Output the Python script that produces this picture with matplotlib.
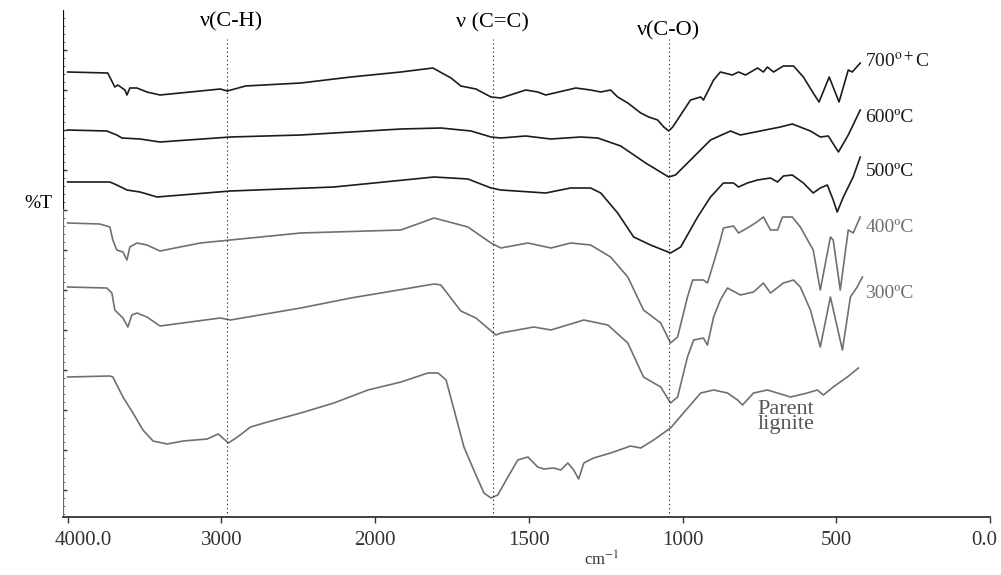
import numpy as np
import matplotlib
matplotlib.use("Agg")
import matplotlib.pyplot as plt
import matplotlib.transforms as mtransforms

plt.rcParams["mathtext.fontset"] = "stix"

# ---------------- data (wavenumber cm-1, %T arbitrary offset units) ----------------
w700 = [4000, 3739, 3706, 3693, 3673, 3627, 3614, 3595, 3549, 3484, 3399, 3137, 3007, 2961, 2843, 2484,
        2157, 1916, 1812, 1753, 1721, 1672, 1623, 1591, 1510, 1471, 1445, 1347, 1299, 1266, 1234, 1211,
        1178, 1136, 1110, 1081, 1061, 1045, 1032, 974, 941, 932, 899, 877, 838, 818, 795, 756, 737, 724,
        704, 672, 639, 607, 575, 556, 523, 491, 461, 448, 422]
t700 = [445, 444, 434, 430, 432, 427, 422, 429, 429, 425, 422, 426, 428, 426, 431, 434,
        440, 445, 449, 439, 431, 428, 420, 419, 427, 425, 422, 429, 427, 425, 427, 420,
        414, 404, 400, 397, 390, 386, 390, 417, 420, 417, 437, 445, 442, 445, 442, 449, 445, 450,
        445, 451, 451, 440, 424, 415, 440, 415, 447, 445, 454]

w600 = [4000, 3745, 3680, 3647, 3529, 3399, 2941, 2484, 1916, 1786, 1688, 1623, 1591, 1510, 1428,
        1331, 1276, 1201, 1120, 1045, 1023, 974, 909, 844, 812, 747, 682, 643, 584, 552, 526, 493,
        461, 422]
t600 = [387, 386, 382, 379, 378, 375, 380, 382, 388, 389, 386, 380, 379, 381, 378,
        380, 379, 371, 354, 340, 342, 357, 377, 386, 382, 386, 390, 393, 386, 380, 381, 365,
        382, 407]

w500 = [4000, 3725, 3680, 3614, 3529, 3418, 2941, 2268, 1808, 1698, 1623, 1591, 1445, 1364, 1299,
        1266, 1211, 1159, 1104, 1039, 1006, 951, 909, 867, 834, 818, 789, 756, 714, 691, 672, 643,
        607, 575, 552, 529, 510, 497, 477, 445, 422]
t500 = [335, 335, 332, 327, 325, 320, 326, 330, 340, 338, 329, 327, 324, 329, 329,
        324, 304, 280, 272, 264, 270, 300, 320, 334, 334, 330, 334, 337, 339, 335, 341, 342,
        334, 324, 329, 332, 317, 305, 320, 340, 360]

w400 = [4000, 3791, 3725, 3706, 3680, 3640, 3614, 3595, 3549, 3484, 3399, 3137, 2941, 2484, 1916,
        1808, 1698, 1623, 1591, 1503, 1428, 1364, 1299, 1234, 1178, 1127, 1071, 1039, 1016, 984,
        967, 932, 919, 899, 877, 867, 834, 818, 789, 763, 737, 714, 691, 675, 643, 617, 575, 552,
        519, 510, 487, 461, 445, 422]
t400 = [294, 293, 290, 277, 267, 265, 257, 270, 274, 272, 266, 274, 277, 284, 287,
        299, 290, 274, 269, 274, 269, 274, 272, 260, 240, 207, 194, 174, 180, 220,
        237, 237, 234, 254, 277, 289, 291, 284, 289, 294, 300, 287, 287, 300, 300, 290, 267, 227,
        280, 277, 227, 287, 284, 300]

w300 = [4000, 3745, 3712, 3693, 3680, 3640, 3608, 3582, 3549, 3484, 3399, 3007, 2941, 2484, 2157,
        1808, 1786, 1721, 1672, 1607, 1591, 1484, 1428, 1321, 1243, 1178, 1127, 1071, 1039, 1016,
        984, 964, 932, 919, 899, 877, 854, 812, 769, 737, 714, 672, 639, 617, 584, 552, 519, 480,
        454, 432, 415]
t300 = [230, 229, 224, 207, 205, 199, 190, 202, 204, 200, 191, 199, 197, 209, 219,
        233, 232, 206, 199, 182, 184, 190, 187, 197, 192, 174, 140, 130, 114, 120,
        160, 177, 179, 172, 200, 217, 229, 222, 225, 234, 224, 234, 237, 230, 207, 170, 220, 167,
        220, 230, 240]

wpar = [4000, 3725, 3706, 3640, 3575, 3510, 3444, 3353, 3248, 3092, 3020, 2954, 2895, 2810, 2699,
        2484, 2268, 2046, 1916, 1828, 1795, 1769, 1743, 1711, 1679, 1646, 1623, 1601, 1568, 1536,
        1503, 1471, 1451, 1419, 1396, 1373, 1354, 1338, 1321, 1289, 1234, 1169, 1136, 1094, 1039,
        997, 941, 899, 854, 821, 805, 769, 724, 649, 594, 562, 542, 510, 464, 428]
tpar = [140, 141, 140, 120, 104, 87, 76, 73, 76, 78, 83, 74, 80, 90, 95,
        104, 114, 127, 135, 144, 144, 137, 107, 70, 47, 24, 19, 22, 40, 57,
        60, 50, 48, 49, 47, 54, 47, 38, 54, 59, 64, 71, 69, 77, 89,
        104, 124, 127, 124, 117, 112, 124, 127, 120, 124, 127, 122, 130, 140, 149]

series_labels = [r"700$^{\mathrm{o+}}$C", "600ºC", "500ºC", "400ºC", "300ºC", "Parent\nlignite"]
band_names = ["ν(C-H)", "ν (C=C)", "ν(C-O)"]
band_pos = [2961, 1617, 1045]
xtick_vals = [4000, 3000, 2000, 1500, 1000, 500, 0]
xtick_labels = ["4000.0", "3000", "2000", "1500", "1000", "500", "0.0"]

# ---------------- figure ----------------
W, H = 1001, 575
fig = plt.figure(figsize=(W / 100, H / 100), dpi=100)
ax = fig.add_axes([63 / W, 58 / H, 927 / W, 507 / H])
serif = "Liberation Serif"


def fwd(w):
    w = np.asarray(w, dtype=float)
    return np.where(w > 2000, 2000 + (w - 2000) / 2.0, w)


def inv(f):
    f = np.asarray(f, dtype=float)
    return np.where(f > 2000, 2000 + 2.0 * (f - 2000), f)


ax.set_xscale("function", functions=(fwd, inv))
ax.set_xlim(4030, 0)
ax.set_ylim(0, 507)

dark = "#1c1c1c"
grey = "#707070"
curves = [(w700, t700, dark), (w600, t600, dark), (w500, t500, dark),
          (w400, t400, grey), (w300, t300, grey), (wpar, tpar, grey)]
for wx, ty, c in curves:
    ax.plot(wx, ty, color=c, lw=1.2, solid_joinstyle="round")

# band marker lines
for bp in band_pos:
    ax.plot([bp, bp], [0, 478], ls=(0, (1.2, 2.5)), color="#333333", lw=0.8)

# band labels
ax.text(2935, 495, band_names[0], ha="center", va="center", fontsize=16, family=serif)
ax.text(1617, 494, band_names[1], ha="center", va="center", fontsize=16, family=serif)
ax.text(1045, 486, band_names[2], ha="center", va="center", fontsize=16, family=serif)

# series labels
lab_pos = [(405, 456, dark), (405, 400, dark), (405, 345, dark), (405, 289, grey), (405, 224, grey)]
for (x, y, c), s in zip(lab_pos, series_labels[:5]):
    ax.text(x, y, s, ha="left", va="center", fontsize=14, family=serif, color=c)
ax.text(664, 100, series_labels[5], ha="center", va="center", fontsize=16, family=serif,
        color="#555555", linespacing=0.68)

# spines
for s in ["top", "right"]:
    ax.spines[s].set_visible(False)
ax.spines["left"].set_visible(False)
ax.axvline(4030, ymin=0.0, ymax=0.61, color="#6a6a6a", lw=1.6)
ax.axvline(4030, ymin=0.61, ymax=1.0, color="#111111", lw=1.6)
ax.spines["bottom"].set_color("#333333")
ax.spines["bottom"].set_linewidth(1.3)

ax.set_xticks(xtick_vals)
ax.set_xticklabels(xtick_labels, fontsize=15, family=serif, color="#333333")
ax.tick_params(axis="x", direction="out", length=4, width=1, pad=6, colors="#333333")
lbls = ax.get_xticklabels()
lbls[0].set_transform(lbls[0].get_transform() + mtransforms.ScaledTranslation(16 / 100, 0, fig.dpi_scale_trans))
lbls[-1].set_transform(lbls[-1].get_transform() + mtransforms.ScaledTranslation(-6 / 100, 0, fig.dpi_scale_trans))
ax.xaxis.set_minor_locator(matplotlib.ticker.NullLocator())

ax.set_yticks(np.arange(27, 500, 40))
ax.set_yticks(np.arange(3, 507, 8), minor=True)
ax.set_yticklabels([])
ax.tick_params(axis="y", which="major", direction="in", length=3, width=1, colors="#333333")
ax.tick_params(axis="y", which="minor", direction="in", length=1.5, width=0.6, colors="#555555")

fig.text(38 / W, 1 - 203 / H, "%T", ha="center", va="center", fontsize=14, family=serif)
fig.text(602 / W, 1 - 560 / H, "cm$^{-1}$", ha="center", va="center", fontsize=12, family=serif,
         color="#333333")

fig.savefig("out.png", dpi=100)
